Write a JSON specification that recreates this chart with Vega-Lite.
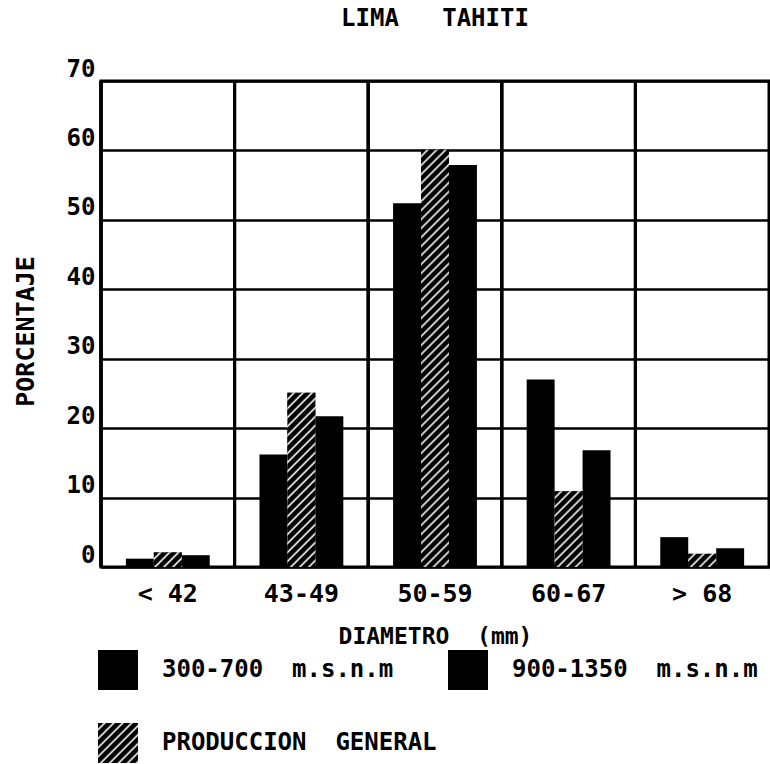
{
  "$schema": "https://vega.github.io/schema/vega-lite/v6.json",
  "width": 668,
  "height": 486,
  "autosize": {"type": "none"},
  "padding": {"left": 101, "top": 81, "right": 1, "bottom": 197},
  "background": "white",
  "title": {"text": "LIMA\u00a0\u00a0\u00a0TAHITI", "font": "DejaVu Sans Mono", "fontWeight": "bold", "fontSize": 24, "color": "#000", "anchor": "middle", "frame": "group", "offset": 26},
  "config": {
    "view": {"stroke": "#000", "strokeWidth": 3},
    "axis": {"labelColor": "#000", "titleColor": "#000", "labelFont": "DejaVu Sans Mono", "titleFont": "DejaVu Sans Mono", "labelFontWeight": "bold", "titleFontWeight": "bold"}
  },
  "data": {"values": [
    {"diam": "< 42", "orden": 1, "serie": "300-700\u00a0\u00a0m.s.n.m", "pct": 1.2},
    {"diam": "< 42", "orden": 2, "serie": "PRODUCCION\u00a0\u00a0GENERAL", "pct": 2.1},
    {"diam": "< 42", "orden": 3, "serie": "900-1350\u00a0\u00a0m.s.n.m", "pct": 1.7},
    {"diam": "43-49", "orden": 1, "serie": "300-700\u00a0\u00a0m.s.n.m", "pct": 16.2},
    {"diam": "43-49", "orden": 2, "serie": "PRODUCCION\u00a0\u00a0GENERAL", "pct": 25.1},
    {"diam": "43-49", "orden": 3, "serie": "900-1350\u00a0\u00a0m.s.n.m", "pct": 21.7},
    {"diam": "50-59", "orden": 1, "serie": "300-700\u00a0\u00a0m.s.n.m", "pct": 52.4},
    {"diam": "50-59", "orden": 2, "serie": "PRODUCCION\u00a0\u00a0GENERAL", "pct": 60.1},
    {"diam": "50-59", "orden": 3, "serie": "900-1350\u00a0\u00a0m.s.n.m", "pct": 57.9},
    {"diam": "60-67", "orden": 1, "serie": "300-700\u00a0\u00a0m.s.n.m", "pct": 27.0},
    {"diam": "60-67", "orden": 2, "serie": "PRODUCCION\u00a0\u00a0GENERAL", "pct": 10.9},
    {"diam": "60-67", "orden": 3, "serie": "900-1350\u00a0\u00a0m.s.n.m", "pct": 16.8},
    {"diam": "> 68", "orden": 1, "serie": "300-700\u00a0\u00a0m.s.n.m", "pct": 4.3},
    {"diam": "> 68", "orden": 2, "serie": "PRODUCCION\u00a0\u00a0GENERAL", "pct": 1.9},
    {"diam": "> 68", "orden": 3, "serie": "900-1350\u00a0\u00a0m.s.n.m", "pct": 2.7}
  ]},
  "layer": [
    {
      "mark": {"type": "bar", "strokeWidth": 0},
      "encoding": {
        "x": {"field": "diam", "type": "nominal",
          "scale": {"domain": ["< 42", "43-49", "50-59", "60-67", "> 68"], "paddingInner": 0, "paddingOuter": 0},
          "axis": {"title": "DIAMETRO\u00a0\u00a0(mm)", "labelAngle": 0, "ticks": false, "domain": false, "grid": false, "labelFontSize": 25, "labelPadding": 14, "titleFontSize": 23, "titleY": 58, "titleBaseline": "top"}},
        "xOffset": {"field": "orden", "type": "nominal", "scale": {"domain": [1, 2, 3], "paddingInner": 0, "paddingOuter": 0.89}},
        "y": {"field": "pct", "type": "quantitative", "scale": {"domain": [0, 70], "nice": false},
          "axis": {"values": [0, 5, 10, 15, 20, 25, 30, 35, 40, 45, 50, 55, 60, 65, 70], "labelExpr": "datum.value % 10 === 0 ? datum.value : ''", "grid": true, "gridColor": "#000", "gridWidth": 2.5, "gridOpacity": 1, "ticks": false, "domain": false, "labelFontSize": 24, "labelPadding": 6, "labelBaseline": "alphabetic", "labelOffset": -5, "title": "PORCENTAJE", "titleFontSize": 25, "titleX": -76, "titleY": 250, "titleAngle": -90, "titleAlign": "center", "titleBaseline": "middle"}},
        "color": {"field": "serie", "type": "nominal",
          "scale": {"domain": ["300-700\u00a0\u00a0m.s.n.m", "900-1350\u00a0\u00a0m.s.n.m", "PRODUCCION\u00a0\u00a0GENERAL"], "range": ["#000", "#000", {"expr": "{gradient: 'linear', x1: 0, y1: 0, x2: 1.125, y2: 1.125, stops: [{offset: 0.05, color: '#000'}, {offset: 0.075, color: '#fff'}, {offset: 0.1, color: '#000'}, {offset: 0.15, color: '#000'}, {offset: 0.175, color: '#fff'}, {offset: 0.2, color: '#000'}, {offset: 0.25, color: '#000'}, {offset: 0.275, color: '#fff'}, {offset: 0.3, color: '#000'}, {offset: 0.35, color: '#000'}, {offset: 0.375, color: '#fff'}, {offset: 0.4, color: '#000'}, {offset: 0.45, color: '#000'}, {offset: 0.475, color: '#fff'}, {offset: 0.5, color: '#000'}, {offset: 0.55, color: '#000'}, {offset: 0.575, color: '#fff'}, {offset: 0.6, color: '#000'}, {offset: 0.65, color: '#000'}, {offset: 0.675, color: '#fff'}, {offset: 0.7, color: '#000'}, {offset: 0.75, color: '#000'}, {offset: 0.775, color: '#fff'}, {offset: 0.8, color: '#000'}, {offset: 0.85, color: '#000'}, {offset: 0.875, color: '#fff'}, {offset: 0.9, color: '#000'}, {offset: 0.95, color: '#000'}, {offset: 0.975, color: '#fff'}, {offset: 1, color: '#000'}]}"}]},
          "legend": {"orient": "none", "direction": "horizontal", "legendX": -3, "legendY": 569, "title": null, "columns": 2, "symbolType": "square", "symbolSize": 1600, "symbolStrokeWidth": 0, "symbolOpacity": 1, "labelFont": "DejaVu Sans Mono", "labelFontWeight": "bold", "labelFontSize": 24, "labelColor": "#000", "labelLimit": 500, "labelOffset": 24, "columnPadding": 11, "rowPadding": 33, "padding": 0}}
      }
    },
    {
      "transform": [{"filter": "datum.orden == 2 && (datum.diam == '< 42')"}],
      "mark": {"type": "bar", "strokeWidth": 0, "fill": {"gradient": "linear", "x1": 0, "y1": 0, "x2": 1.264, "y2": 0.659, "stops": [
        {"offset": 0.1, "color": "#000"}, {"offset": 0.15, "color": "#fff"}, {"offset": 0.2, "color": "#000"},
        {"offset": 0.3, "color": "#000"}, {"offset": 0.35, "color": "#fff"}, {"offset": 0.4, "color": "#000"},
        {"offset": 0.5, "color": "#000"}, {"offset": 0.55, "color": "#fff"}, {"offset": 0.6, "color": "#000"},
        {"offset": 0.7, "color": "#000"}, {"offset": 0.75, "color": "#fff"}, {"offset": 0.8, "color": "#000"},
        {"offset": 0.9, "color": "#000"}, {"offset": 0.95, "color": "#fff"}, {"offset": 1, "color": "#000"}
      ]}},
      "encoding": {"x": {"field": "diam", "type": "nominal"}, "xOffset": {"field": "orden", "type": "nominal"}, "y": {"field": "pct", "type": "quantitative"}}
    },
    {
      "transform": [{"filter": "datum.orden == 2 && (datum.diam == '> 68')"}],
      "mark": {"type": "bar", "strokeWidth": 0, "fill": {"gradient": "linear", "x1": 0, "y1": 0, "x2": 1.315, "y2": 0.62, "stops": [
        {"offset": 0.1, "color": "#000"}, {"offset": 0.15, "color": "#fff"}, {"offset": 0.2, "color": "#000"},
        {"offset": 0.3, "color": "#000"}, {"offset": 0.35, "color": "#fff"}, {"offset": 0.4, "color": "#000"},
        {"offset": 0.5, "color": "#000"}, {"offset": 0.55, "color": "#fff"}, {"offset": 0.6, "color": "#000"},
        {"offset": 0.7, "color": "#000"}, {"offset": 0.75, "color": "#fff"}, {"offset": 0.8, "color": "#000"},
        {"offset": 0.9, "color": "#000"}, {"offset": 0.95, "color": "#fff"}, {"offset": 1, "color": "#000"}
      ]}},
      "encoding": {"x": {"field": "diam", "type": "nominal"}, "xOffset": {"field": "orden", "type": "nominal"}, "y": {"field": "pct", "type": "quantitative"}}
    },
    {
      "transform": [{"filter": "datum.orden == 2 && datum.diam == '43-49'"}],
      "mark": {"type": "bar", "strokeWidth": 0, "fill": {"gradient": "linear", "x1": 0, "y1": 0, "x2": 0.2022, "y2": 1.2584, "stops": [
        {"offset": 0.02, "color": "#000"}, {"offset": 0.03, "color": "#fff"}, {"offset": 0.04, "color": "#000"},
        {"offset": 0.06, "color": "#000"}, {"offset": 0.07, "color": "#fff"}, {"offset": 0.08, "color": "#000"},
        {"offset": 0.1, "color": "#000"}, {"offset": 0.11, "color": "#fff"}, {"offset": 0.12, "color": "#000"},
        {"offset": 0.14, "color": "#000"}, {"offset": 0.15, "color": "#fff"}, {"offset": 0.16, "color": "#000"},
        {"offset": 0.18, "color": "#000"}, {"offset": 0.19, "color": "#fff"}, {"offset": 0.2, "color": "#000"},
        {"offset": 0.22, "color": "#000"}, {"offset": 0.23, "color": "#fff"}, {"offset": 0.24, "color": "#000"},
        {"offset": 0.26, "color": "#000"}, {"offset": 0.27, "color": "#fff"}, {"offset": 0.28, "color": "#000"},
        {"offset": 0.3, "color": "#000"}, {"offset": 0.31, "color": "#fff"}, {"offset": 0.32, "color": "#000"},
        {"offset": 0.34, "color": "#000"}, {"offset": 0.35, "color": "#fff"}, {"offset": 0.36, "color": "#000"},
        {"offset": 0.38, "color": "#000"}, {"offset": 0.39, "color": "#fff"}, {"offset": 0.4, "color": "#000"},
        {"offset": 0.42, "color": "#000"}, {"offset": 0.43, "color": "#fff"}, {"offset": 0.44, "color": "#000"},
        {"offset": 0.46, "color": "#000"}, {"offset": 0.47, "color": "#fff"}, {"offset": 0.48, "color": "#000"},
        {"offset": 0.5, "color": "#000"}, {"offset": 0.51, "color": "#fff"}, {"offset": 0.52, "color": "#000"},
        {"offset": 0.54, "color": "#000"}, {"offset": 0.55, "color": "#fff"}, {"offset": 0.56, "color": "#000"},
        {"offset": 0.58, "color": "#000"}, {"offset": 0.59, "color": "#fff"}, {"offset": 0.6, "color": "#000"},
        {"offset": 0.62, "color": "#000"}, {"offset": 0.63, "color": "#fff"}, {"offset": 0.64, "color": "#000"},
        {"offset": 0.66, "color": "#000"}, {"offset": 0.67, "color": "#fff"}, {"offset": 0.68, "color": "#000"},
        {"offset": 0.7, "color": "#000"}, {"offset": 0.71, "color": "#fff"}, {"offset": 0.72, "color": "#000"},
        {"offset": 0.74, "color": "#000"}, {"offset": 0.75, "color": "#fff"}, {"offset": 0.76, "color": "#000"},
        {"offset": 0.78, "color": "#000"}, {"offset": 0.79, "color": "#fff"}, {"offset": 0.8, "color": "#000"},
        {"offset": 0.82, "color": "#000"}, {"offset": 0.83, "color": "#fff"}, {"offset": 0.84, "color": "#000"},
        {"offset": 0.86, "color": "#000"}, {"offset": 0.87, "color": "#fff"}, {"offset": 0.88, "color": "#000"},
        {"offset": 0.9, "color": "#000"}, {"offset": 0.91, "color": "#fff"}, {"offset": 0.92, "color": "#000"}
      ]}},
      "encoding": {"x": {"field": "diam", "type": "nominal"}, "xOffset": {"field": "orden", "type": "nominal"}, "y": {"field": "pct", "type": "quantitative"}}
    },
    {
      "transform": [{"filter": "datum.orden == 2 && datum.diam == '60-67'"}],
      "mark": {"type": "bar", "strokeWidth": 0, "fill": {"gradient": "linear", "x1": 0, "y1": 0, "x2": 0.7737, "y2": 2.0918, "stops": [
        {"offset": 0.025, "color": "#000"}, {"offset": 0.0375, "color": "#fff"}, {"offset": 0.05, "color": "#000"},
        {"offset": 0.075, "color": "#000"}, {"offset": 0.0875, "color": "#fff"}, {"offset": 0.1, "color": "#000"},
        {"offset": 0.125, "color": "#000"}, {"offset": 0.1375, "color": "#fff"}, {"offset": 0.15, "color": "#000"},
        {"offset": 0.175, "color": "#000"}, {"offset": 0.1875, "color": "#fff"}, {"offset": 0.2, "color": "#000"},
        {"offset": 0.225, "color": "#000"}, {"offset": 0.2375, "color": "#fff"}, {"offset": 0.25, "color": "#000"},
        {"offset": 0.275, "color": "#000"}, {"offset": 0.2875, "color": "#fff"}, {"offset": 0.3, "color": "#000"},
        {"offset": 0.325, "color": "#000"}, {"offset": 0.3375, "color": "#fff"}, {"offset": 0.35, "color": "#000"},
        {"offset": 0.375, "color": "#000"}, {"offset": 0.3875, "color": "#fff"}, {"offset": 0.4, "color": "#000"},
        {"offset": 0.425, "color": "#000"}, {"offset": 0.4375, "color": "#fff"}, {"offset": 0.45, "color": "#000"},
        {"offset": 0.475, "color": "#000"}, {"offset": 0.4875, "color": "#fff"}, {"offset": 0.5, "color": "#000"},
        {"offset": 0.525, "color": "#000"}, {"offset": 0.5375, "color": "#fff"}, {"offset": 0.55, "color": "#000"},
        {"offset": 0.575, "color": "#000"}, {"offset": 0.5875, "color": "#fff"}, {"offset": 0.6, "color": "#000"}
      ]}},
      "encoding": {"x": {"field": "diam", "type": "nominal"}, "xOffset": {"field": "orden", "type": "nominal"}, "y": {"field": "pct", "type": "quantitative"}}
    },
    {
      "transform": [{"filter": "datum.orden == 2 && datum.diam == '50-59'"}],
      "mark": {"type": "bar", "strokeWidth": 0, "fill": {"gradient": "linear", "x1": 0, "y1": 0, "x2": 0.072, "y2": 1.0735, "stops": [
        {"offset": 0.01, "color": "#000"}, {"offset": 0.015, "color": "#fff"}, {"offset": 0.02, "color": "#000"},
        {"offset": 0.03, "color": "#000"}, {"offset": 0.035, "color": "#fff"}, {"offset": 0.04, "color": "#000"},
        {"offset": 0.05, "color": "#000"}, {"offset": 0.055, "color": "#fff"}, {"offset": 0.06, "color": "#000"},
        {"offset": 0.07, "color": "#000"}, {"offset": 0.075, "color": "#fff"}, {"offset": 0.08, "color": "#000"},
        {"offset": 0.09, "color": "#000"}, {"offset": 0.095, "color": "#fff"}, {"offset": 0.1, "color": "#000"},
        {"offset": 0.11, "color": "#000"}, {"offset": 0.115, "color": "#fff"}, {"offset": 0.12, "color": "#000"},
        {"offset": 0.13, "color": "#000"}, {"offset": 0.135, "color": "#fff"}, {"offset": 0.14, "color": "#000"},
        {"offset": 0.15, "color": "#000"}, {"offset": 0.155, "color": "#fff"}, {"offset": 0.16, "color": "#000"},
        {"offset": 0.17, "color": "#000"}, {"offset": 0.175, "color": "#fff"}, {"offset": 0.18, "color": "#000"},
        {"offset": 0.19, "color": "#000"}, {"offset": 0.195, "color": "#fff"}, {"offset": 0.2, "color": "#000"},
        {"offset": 0.21, "color": "#000"}, {"offset": 0.215, "color": "#fff"}, {"offset": 0.22, "color": "#000"},
        {"offset": 0.23, "color": "#000"}, {"offset": 0.235, "color": "#fff"}, {"offset": 0.24, "color": "#000"},
        {"offset": 0.25, "color": "#000"}, {"offset": 0.255, "color": "#fff"}, {"offset": 0.26, "color": "#000"},
        {"offset": 0.27, "color": "#000"}, {"offset": 0.275, "color": "#fff"}, {"offset": 0.28, "color": "#000"},
        {"offset": 0.29, "color": "#000"}, {"offset": 0.295, "color": "#fff"}, {"offset": 0.3, "color": "#000"},
        {"offset": 0.31, "color": "#000"}, {"offset": 0.315, "color": "#fff"}, {"offset": 0.32, "color": "#000"},
        {"offset": 0.33, "color": "#000"}, {"offset": 0.335, "color": "#fff"}, {"offset": 0.34, "color": "#000"},
        {"offset": 0.35, "color": "#000"}, {"offset": 0.355, "color": "#fff"}, {"offset": 0.36, "color": "#000"},
        {"offset": 0.37, "color": "#000"}, {"offset": 0.375, "color": "#fff"}, {"offset": 0.38, "color": "#000"},
        {"offset": 0.39, "color": "#000"}, {"offset": 0.395, "color": "#fff"}, {"offset": 0.4, "color": "#000"},
        {"offset": 0.41, "color": "#000"}, {"offset": 0.415, "color": "#fff"}, {"offset": 0.42, "color": "#000"},
        {"offset": 0.43, "color": "#000"}, {"offset": 0.435, "color": "#fff"}, {"offset": 0.44, "color": "#000"},
        {"offset": 0.45, "color": "#000"}, {"offset": 0.455, "color": "#fff"}, {"offset": 0.46, "color": "#000"},
        {"offset": 0.47, "color": "#000"}, {"offset": 0.475, "color": "#fff"}, {"offset": 0.48, "color": "#000"},
        {"offset": 0.49, "color": "#000"}, {"offset": 0.495, "color": "#fff"}, {"offset": 0.5, "color": "#000"},
        {"offset": 0.51, "color": "#000"}, {"offset": 0.515, "color": "#fff"}, {"offset": 0.52, "color": "#000"},
        {"offset": 0.53, "color": "#000"}, {"offset": 0.535, "color": "#fff"}, {"offset": 0.54, "color": "#000"},
        {"offset": 0.55, "color": "#000"}, {"offset": 0.555, "color": "#fff"}, {"offset": 0.56, "color": "#000"},
        {"offset": 0.57, "color": "#000"}, {"offset": 0.575, "color": "#fff"}, {"offset": 0.58, "color": "#000"},
        {"offset": 0.59, "color": "#000"}, {"offset": 0.595, "color": "#fff"}, {"offset": 0.6, "color": "#000"},
        {"offset": 0.61, "color": "#000"}, {"offset": 0.615, "color": "#fff"}, {"offset": 0.62, "color": "#000"},
        {"offset": 0.63, "color": "#000"}, {"offset": 0.635, "color": "#fff"}, {"offset": 0.64, "color": "#000"},
        {"offset": 0.65, "color": "#000"}, {"offset": 0.655, "color": "#fff"}, {"offset": 0.66, "color": "#000"},
        {"offset": 0.67, "color": "#000"}, {"offset": 0.675, "color": "#fff"}, {"offset": 0.68, "color": "#000"},
        {"offset": 0.69, "color": "#000"}, {"offset": 0.695, "color": "#fff"}, {"offset": 0.7, "color": "#000"},
        {"offset": 0.71, "color": "#000"}, {"offset": 0.715, "color": "#fff"}, {"offset": 0.72, "color": "#000"},
        {"offset": 0.73, "color": "#000"}, {"offset": 0.735, "color": "#fff"}, {"offset": 0.74, "color": "#000"},
        {"offset": 0.75, "color": "#000"}, {"offset": 0.755, "color": "#fff"}, {"offset": 0.76, "color": "#000"},
        {"offset": 0.77, "color": "#000"}, {"offset": 0.775, "color": "#fff"}, {"offset": 0.78, "color": "#000"},
        {"offset": 0.79, "color": "#000"}, {"offset": 0.795, "color": "#fff"}, {"offset": 0.8, "color": "#000"},
        {"offset": 0.81, "color": "#000"}, {"offset": 0.815, "color": "#fff"}, {"offset": 0.82, "color": "#000"},
        {"offset": 0.83, "color": "#000"}, {"offset": 0.835, "color": "#fff"}, {"offset": 0.84, "color": "#000"},
        {"offset": 0.85, "color": "#000"}, {"offset": 0.855, "color": "#fff"}, {"offset": 0.86, "color": "#000"},
        {"offset": 0.87, "color": "#000"}, {"offset": 0.875, "color": "#fff"}, {"offset": 0.88, "color": "#000"},
        {"offset": 0.89, "color": "#000"}, {"offset": 0.895, "color": "#fff"}, {"offset": 0.9, "color": "#000"},
        {"offset": 0.91, "color": "#000"}, {"offset": 0.915, "color": "#fff"}, {"offset": 0.92, "color": "#000"},
        {"offset": 0.93, "color": "#000"}, {"offset": 0.935, "color": "#fff"}, {"offset": 0.94, "color": "#000"},
        {"offset": 0.95, "color": "#000"}, {"offset": 0.955, "color": "#fff"}, {"offset": 0.96, "color": "#000"},
        {"offset": 0.97, "color": "#000"}, {"offset": 0.975, "color": "#fff"}, {"offset": 0.98, "color": "#000"},
        {"offset": 0.99, "color": "#000"}, {"offset": 0.995, "color": "#fff"}, {"offset": 1, "color": "#000"}
      ]}},
      "encoding": {"x": {"field": "diam", "type": "nominal"}, "xOffset": {"field": "orden", "type": "nominal"}, "y": {"field": "pct", "type": "quantitative"}}
    },
    {
      "mark": {"type": "rule", "color": "#000", "strokeWidth": 3},
      "encoding": {"x": {"field": "diam", "type": "nominal", "bandPosition": 0}}
    }
  ]
}
